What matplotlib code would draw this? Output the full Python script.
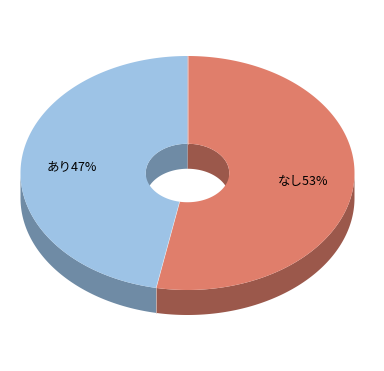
import matplotlib
matplotlib.use('Agg')
import matplotlib.pyplot as plt
from matplotlib.patches import Polygon
import numpy as np

plt.rcParams['font.family'] = ['Noto Sans CJK JP', 'DejaVu Sans']

# Data
labels = ['なし', 'あり']
values = [53, 47]
top_colors = ['#E07E6B', '#9DC3E6']
side_colors = ['#9B584B', '#6F8BA5']

# geometry (pixels)
cx, cy = 187.5, 173
rx, ry = 167, 117
hole = 0.25
depth = 25

fig = plt.figure(figsize=(3.84, 3.71), dpi=100)
ax = fig.add_axes([0, 0, 1, 1])
ax.set_xlim(0, 384)
ax.set_ylim(371, 0)
ax.axis('off')


def pt(t, f=1.0, dy=0.0):
    return cx + rx * f * np.cos(t), cy - ry * f * np.sin(t) + dy


# slice angles, clockwise from top
fracs = np.array(values) / sum(values)
edges = np.pi / 2 - 2 * np.pi * np.concatenate([[0], np.cumsum(fracs)])


def wall(t0, t1, f, col):
    t = np.linspace(t0, t1, 200)
    x1, y1 = pt(t, f)
    x2, y2 = pt(t[::-1], f, depth)
    ax.add_patch(Polygon(np.column_stack([np.r_[x1, x2], np.r_[y1, y2]]),
                         closed=True, fc=col, ec='none'))


def clip(a0, a1, lo, hi):
    # overlap of angular interval [a1, a0] (a1 < a0) with [lo, hi]
    out = []
    for k in (-1, 0, 1):
        L, H = lo + 2 * np.pi * k, hi + 2 * np.pi * k
        s, e = max(a1, L), min(a0, H)
        if e > s:
            out.append((s, e))
    return out


# outer front wall and inner back wall
for i in range(len(values)):
    a0, a1 = edges[i], edges[i + 1]
    for s, e in clip(a0, a1, np.pi, 2 * np.pi):
        wall(s, e, 1.0, side_colors[i])
    for s, e in clip(a0, a1, 0, np.pi):
        wall(s, e, hole, side_colors[i])

# side boundary lines on outer wall
for a in edges[:-1]:
    if np.sin(a) < 0:
        x, y = pt(a)
        ax.plot([x, x], [y, y + depth], color='#D8C8C4', lw=0.6, alpha=0.7)

# top ring surface
for i in range(len(values)):
    t = np.linspace(edges[i], edges[i + 1], 300)
    xo, yo = pt(t)
    xi, yi = pt(t[::-1], hole)
    ax.add_patch(Polygon(np.column_stack([np.r_[xo, xi], np.r_[yo, yi]]),
                         closed=True, fc=top_colors[i], ec='none'))

for a in edges[:-1]:
    x0, y0 = pt(a, hole)
    x1, y1 = pt(a)
    ax.plot([x0, x1], [y0, y1], color='white', lw=0.5, alpha=0.5)

# labels
for i in range(len(values)):
    mid = (edges[i] + edges[i + 1]) / 2
    x, y = pt(mid, 0.695)
    ax.text(x, y + 1, f'{labels[i]}{values[i]}%', ha='center', va='center',
            fontsize=9, color='black')

fig.savefig('out.png', dpi=100)
